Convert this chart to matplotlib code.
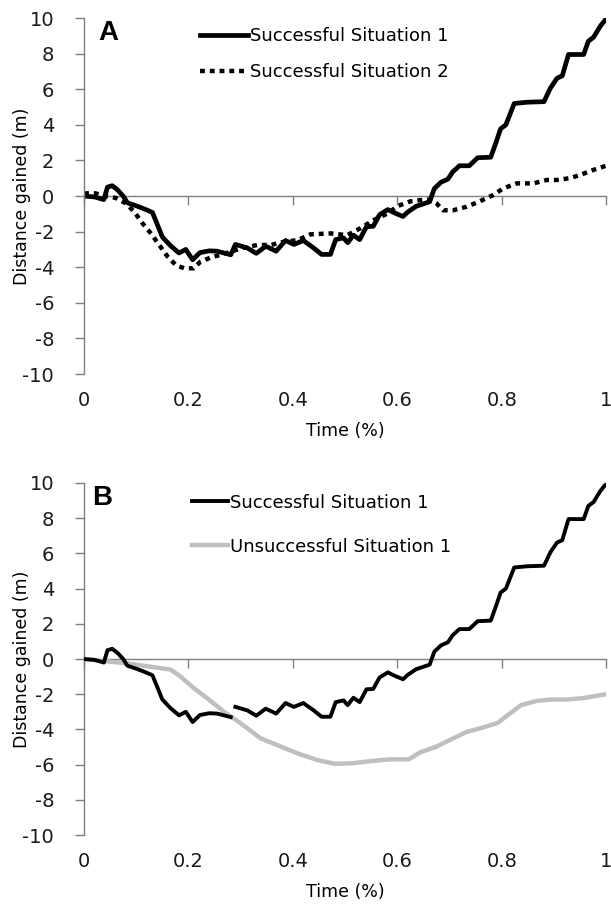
import numpy as np
import matplotlib
matplotlib.use('Agg')
import matplotlib.pyplot as plt

plt.rcParams['font.family'] = ['DejaVu Sans']

# time (fraction of the play) and distance gained (m)
t_succ1 = [0, 0.02, 0.038, 0.045, 0.054, 0.064, 0.075, 0.083, 0.1, 0.115,
           0.131, 0.137, 0.15, 0.166, 0.182, 0.195, 0.208, 0.222, 0.24, 0.255,
           0.281, 0.29, 0.313, 0.33, 0.348, 0.368, 0.386, 0.402, 0.42, 0.44,
           0.455, 0.472, 0.482, 0.497, 0.505, 0.516, 0.528, 0.541, 0.554, 0.566,
           0.582, 0.595, 0.611, 0.62, 0.636, 0.652, 0.662, 0.671, 0.684, 0.697,
           0.706, 0.719, 0.738, 0.754, 0.779, 0.789, 0.798, 0.808, 0.824, 0.849,
           0.881, 0.893, 0.906, 0.916, 0.928, 0.957, 0.966, 0.976, 0.989, 1.0]
d_succ1 = [0.0, -0.05, -0.2, 0.5, 0.58, 0.35, 0.0, -0.38, -0.55, -0.72,
           -0.92, -1.35, -2.3, -2.8, -3.2, -3.0, -3.58, -3.18, -3.08, -3.1,
           -3.3, -2.72, -2.92, -3.22, -2.82, -3.1, -2.5, -2.72, -2.5, -2.92,
           -3.28, -3.28, -2.45, -2.35, -2.62, -2.2, -2.45, -1.72, -1.7, -1.05,
           -0.76, -0.95, -1.15, -0.9, -0.58, -0.42, -0.32, 0.42, 0.78, 0.95,
           1.35, 1.7, 1.7, 2.15, 2.18, 3.0, 3.78, 4.0, 5.2, 5.27,
           5.3, 6.05, 6.62, 6.75, 7.95, 7.95, 8.7, 8.92, 9.55, 9.95]

t_succ2 = [0, 0.022, 0.04, 0.06, 0.08, 0.096, 0.112, 0.128, 0.144, 0.16,
           0.176, 0.192, 0.21, 0.223, 0.243, 0.262, 0.281, 0.3, 0.332, 0.358,
           0.383, 0.409, 0.434, 0.473, 0.504, 0.53, 0.555, 0.58, 0.602, 0.625,
           0.644, 0.662, 0.675, 0.688, 0.707, 0.733, 0.758, 0.784, 0.803, 0.829,
           0.861, 0.886, 0.905, 0.93, 0.95, 0.975, 1.0]
d_succ2 = [0.15, 0.15, 0.0, -0.1, -0.41, -0.88, -1.53, -2.1, -2.75, -3.4,
           -3.88, -4.06, -4.06, -3.69, -3.45, -3.3, -3.13, -2.94, -2.75, -2.75,
           -2.57, -2.48, -2.15, -2.1, -2.2, -1.8, -1.35, -1.0, -0.55, -0.3,
           -0.23, -0.2, -0.41, -0.8, -0.8, -0.6, -0.3, 0.06, 0.43, 0.71,
           0.71, 0.9, 0.9, 1.0, 1.18, 1.46, 1.7]

t_unsucc1 = [0, 0.04, 0.083, 0.128, 0.166, 0.185, 0.211, 0.236, 0.268, 0.3,
             0.338, 0.37, 0.409, 0.447, 0.48, 0.511, 0.556, 0.585, 0.622, 0.644,
             0.674, 0.704, 0.733, 0.763, 0.793, 0.807, 0.837, 0.867, 0.896, 0.926,
             0.956, 1.0]
d_unsucc1 = [0.0, -0.12, -0.25, -0.44, -0.6, -1.0, -1.67, -2.23, -2.99, -3.65,
             -4.5, -4.89, -5.36, -5.74, -5.95, -5.93, -5.78, -5.7, -5.7, -5.3,
             -4.99, -4.55, -4.14, -3.9, -3.62, -3.29, -2.62, -2.38, -2.3, -2.3,
             -2.22, -2.0]

x_ticks = [0, 0.2, 0.4, 0.6, 0.8, 1]
x_ticklabels = ['0', '0.2', '0.4', '0.6', '0.8', '1']
y_ticks = list(range(-10, 11, 2))

axis_col = '#7f7f7f'


def style_axes(ax):
    ax.set_xlim(0, 1)
    ax.set_ylim(-10, 10)
    for s in ['top', 'right', 'bottom']:
        ax.spines[s].set_visible(False)
    ax.spines['left'].set_color(axis_col)
    ax.spines['left'].set_linewidth(1.0)
    ax.set_yticks(y_ticks)
    ax.set_yticklabels([str(v) for v in y_ticks])
    ax.tick_params(axis='y', length=6.5, width=1.0, color=axis_col, pad=15,
                   labelsize=14, labelcolor='#1a1a1a')
    ax.set_xticks(x_ticks)
    ax.set_xticklabels(x_ticklabels)
    ax.tick_params(axis='x', length=0, pad=12, labelsize=14, labelcolor='#1a1a1a')
    ax.set_xlabel('Time (%)', fontsize=12.5, labelpad=9)
    ax.set_ylabel('Distance gained (m)', fontsize=12.5, labelpad=-6)
    # axis line through zero with tick marks
    zero = ax.secondary_xaxis(0, transform=ax.transData)
    zero.set_xticks(x_ticks)
    zero.tick_params(axis='x', length=6.5, width=1.0, color=axis_col,
                     direction='out', labelbottom=False)
    zero.spines['bottom'].set_color(axis_col)
    zero.spines['bottom'].set_linewidth(1.0)
    for s in ['top', 'left', 'right']:
        if s in zero.spines:
            zero.spines[s].set_visible(False)


fig = plt.figure(figsize=(6.11, 9.05), dpi=100)
axA = fig.add_axes([0.1375, 0.5867, 0.8545, 0.3934])
axB = fig.add_axes([0.1375, 0.0773, 0.8545, 0.389])

# panel A
axA.plot(t_succ1, d_succ1, color='black', lw=3.4, solid_joinstyle='round',
         label='Successful Situation 1')
axA.plot(t_succ2, d_succ2, color='black', lw=3.2, linestyle=(0, (1.1, 1.1)),
         dash_capstyle='butt', label='Successful Situation 2')
style_axes(axA)
axA.legend(loc='upper left', bbox_to_anchor=(0.222, 0.975), frameon=False,
           fontsize=13, handlelength=2.65, handletextpad=0.1, borderpad=0,
           borderaxespad=0, labelspacing=1.0)
axA.text(0.027, 0.995, 'A', transform=axA.transAxes, fontsize=20,
         fontweight='bold', family='Liberation Sans', va='top', ha='left')

# panel B
axB.plot(t_unsucc1, d_unsucc1, color='#bfbfbf', lw=3.2, zorder=2,
         solid_joinstyle='round')
axB.plot(t_succ1[:21], d_succ1[:21], color='black', lw=2.8, zorder=3,
         solid_joinstyle='round')
axB.plot(t_succ1[21:], d_succ1[21:], color='black', lw=2.8, zorder=3,
         solid_joinstyle='round')
hb1, = axB.plot([], [], color='black', lw=2.8)
hb2, = axB.plot([], [], color='#bfbfbf', lw=3.2)
style_axes(axB)
axB.legend([hb1, hb2], ['Successful Situation 1', 'Unsuccessful Situation 1'],
           loc='upper left', bbox_to_anchor=(0.207, 0.97), frameon=False,
           fontsize=13, handlelength=2.0, handletextpad=0.1, borderpad=0,
           borderaxespad=0, labelspacing=1.45)
axB.text(0.015, 0.995, 'B', transform=axB.transAxes, fontsize=20,
         fontweight='bold', family='Liberation Sans', va='top', ha='left')

fig.savefig('out.png', dpi=100)
